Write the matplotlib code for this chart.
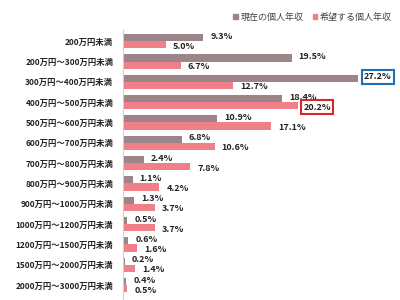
import numpy as np
import matplotlib.pyplot as plt
from matplotlib.patches import Patch

plt.rcParams['font.family'] = ['Noto Sans CJK JP', 'DejaVu Sans']

categories = ['200万円未満', '200万円～300万円未満', '300万円～400万円未満', '400万円～500万円未満',
              '500万円～600万円未満', '600万円～700万円未満', '700万円～800万円未満', '800万円～900万円未満',
              '900万円～1000万円未満', '1000万円～1200万円未満', '1200万円～1500万円未満',
              '1500万円～2000万円未満', '2000万円～3000万円未満']
current = [9.3, 19.5, 27.2, 18.4, 10.9, 6.8, 2.4, 1.1, 1.3, 0.5, 0.6, 0.2, 0.4]
desired = [5.0, 6.7, 12.7, 20.2, 17.1, 10.6, 7.8, 4.2, 3.7, 3.7, 1.6, 1.4, 0.5]

grey = '#9c8489'
pink = '#ef7f88'
h = 0.35

fig = plt.figure(figsize=(4, 3), dpi=100)
ax = fig.add_axes([0.3075, -0.052, 0.69, 0.952])

y = np.arange(len(categories))
ax.barh(y - h / 2, current, height=h, color=grey)
ax.barh(y + h / 2, desired, height=h, color=pink)

for i in range(len(categories)):
    c_box = None
    d_box = None
    if i == 2:
        c_box = dict(boxstyle='square,pad=0.25', fc='white', ec='#1f6fb5', lw=1.5)
    if i == 3:
        d_box = dict(boxstyle='square,pad=0.25', fc='white', ec='#d9262c', lw=1.5)
    ax.annotate(f'{current[i]:.1f}%', (current[i], y[i] - h / 2), xytext=(5 if c_box is None else 4, 1),
                textcoords='offset points', va='center', ha='left', fontsize=6.5,
                fontweight='bold', color='#222222', bbox=c_box)
    ax.annotate(f'{desired[i]:.1f}%', (desired[i], y[i] + h / 2), xytext=(5 if d_box is None else 4, -1),
                textcoords='offset points', va='center', ha='left', fontsize=6.5,
                fontweight='bold', color='#222222', bbox=d_box)

ax.set_xlim(0, 31.9)
ax.set_ylim(13.5, -0.55)
ax.set_yticks(y)
ax.set_yticklabels(categories, fontsize=6, fontweight='bold', color='#222222')
ax.tick_params(axis='y', length=0, pad=7)
ax.set_xticks([])
for s in ['top', 'right', 'bottom']:
    ax.spines[s].set_visible(False)
ax.spines['left'].set_color('#d0d0d0')

handles = [Patch(color=grey, label='現在の個人年収'), Patch(color=pink, label='希望する個人年収')]
fig.legend(handles=handles, loc='center right', bbox_to_anchor=(1.0, 0.943), ncol=2, frameon=False,
           fontsize=6.5, handlelength=0.5, handleheight=0.5, handletextpad=0.3, columnspacing=1.0,
           labelcolor='#444444')

fig.savefig('out.png', dpi=100)
